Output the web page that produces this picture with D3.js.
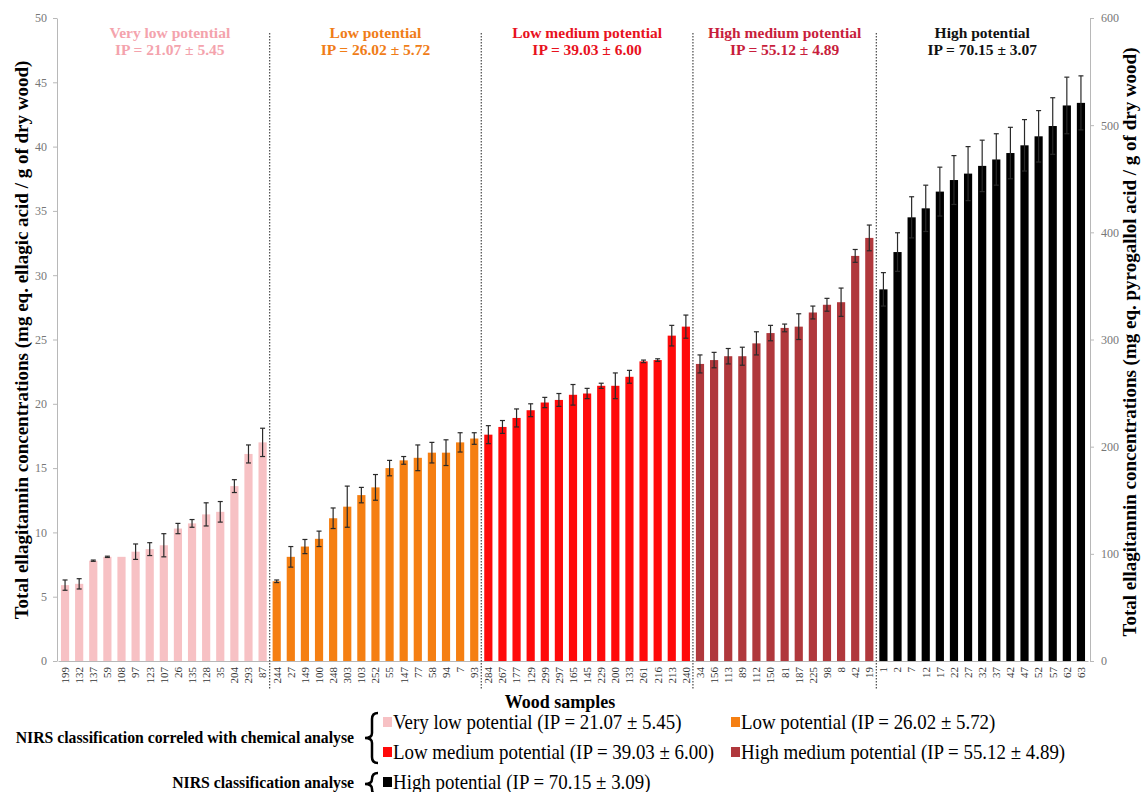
<!DOCTYPE html>
<html>
<head>
<meta charset="utf-8">
<script src="https://cdn.jsdelivr.net/npm/d3@7"></script>
<style>
  body { margin: 0; background: #fff; }
  svg text { font-family: "Liberation Serif", "Times New Roman", serif; }
</style>
</head>
<body>
<div id="chart"></div>
<script>
// groups (NIRS classes)
const groupNames = ['Very low potential', 'Low potential', 'Low medium potential', 'High medium potential', 'High potential'];
const groupIP = ['IP = 21.07 ± 5.45', 'IP = 26.02 ± 5.72', 'IP = 39.03 ± 6.00', 'IP = 55.12 ± 4.89', 'IP = 70.15 ± 3.07'];
const legendIP = ['(IP = 21.07 ± 5.45)', '(IP = 26.02 ± 5.72)', '(IP = 39.03 ± 6.00)', '(IP = 55.12 ± 4.89)', '(IP = 70.15 ± 3.09)'];

// wood samples, per group
const veryLowLabels = ['199', '132', '137', '59', '108', '97', '123', '107', '26', '135', '128', '35', '204', '293', '87'];
const veryLowValues = [5.9, 6.0, 7.8, 8.1, 8.1, 8.5, 8.7, 9.0, 10.3, 10.7, 11.4, 11.6, 13.6, 16.1, 17.0];
const veryLowErrors = [0.4, 0.4, 0.05, 0.05, 0, 0.6, 0.5, 0.9, 0.4, 0.3, 0.9, 0.8, 0.5, 0.7, 1.1];

const lowLabels = ['244', '27', '149', '100', '248', '303', '103', '252', '55', '147', '77', '58', '94', '7', '93'];
const lowValues = [6.2, 8.1, 8.9, 9.5, 11.1, 12.0, 12.9, 13.5, 15.0, 15.6, 15.8, 16.2, 16.2, 17.0, 17.3];
const lowErrors = [0.1, 0.8, 0.55, 0.6, 0.8, 1.6, 0.6, 1.0, 0.6, 0.3, 1.0, 0.8, 1.0, 0.75, 0.45];

const lowMediumLabels = ['284', '267', '177', '129', '299', '297', '165', '145', '229', '200', '133', '261', '216', '213', '240'];
const lowMediumValues = [17.6, 18.2, 18.9, 19.5, 20.1, 20.3, 20.7, 20.8, 21.4, 21.4, 22.1, 23.3, 23.4, 25.3, 26.0];
const lowMediumErrors = [0.7, 0.5, 0.7, 0.5, 0.4, 0.5, 0.8, 0.4, 0.2, 1.0, 0.5, 0.1, 0.1, 0.8, 0.9];

const highMediumLabels = ['34', '156', '113', '89', '112', '150', '81', '187', '225', '98', '8', '42', '19'];
const highMediumValues = [23.1, 23.4, 23.7, 23.7, 24.7, 25.5, 25.9, 26.0, 27.1, 27.7, 27.9, 31.5, 32.9];
const highMediumErrors = [0.7, 0.6, 0.6, 0.7, 0.9, 0.6, 0.3, 1.0, 0.5, 0.5, 1.1, 0.5, 1.0];

const highLabels = ['1', '2', '7', '12', '17', '22', '27', '32', '37', '42', '47', '52', '57', '62', '63'];
const highValues = [28.9, 31.8, 34.5, 35.2, 36.5, 37.4, 37.9, 38.5, 39.0, 39.5, 40.1, 40.8, 41.6, 43.2, 43.4];
const highErrors = [1.3, 1.5, 1.6, 1.8, 1.9, 1.9, 2.1, 2.0, 2.0, 2.0, 2.0, 2.0, 2.2, 2.2, 2.1];

const leftTicks = [0, 5, 10, 15, 20, 25, 30, 35, 40, 45, 50];
const rightTicks = [0, 100, 200, 300, 400, 500, 600];

const barColors = ['#f7c1c4', '#f57f12', '#ff0a0a', '#b0383c', '#000000'];
const headColors = ['#f4a3ad', '#f07d18', '#e8121e', '#c81e3c', '#111111'];

const groupLabels = [veryLowLabels, lowLabels, lowMediumLabels, highMediumLabels, highLabels];
const groupValues = [veryLowValues, lowValues, lowMediumValues, highMediumValues, highValues];
const groupErrors = [veryLowErrors, lowErrors, lowMediumErrors, highMediumErrors, highErrors];

const bars = [];
groupLabels.forEach((labels, g) => {
  labels.forEach((lab, i) => {
    bars.push({id: bars.length, label: lab, value: groupValues[g][i], err: groupErrors[g][i], group: g});
  });
});

const W = 1141, H = 792;
const svg = d3.select('#chart').append('svg').attr('width', W).attr('height', H);

const x = d3.scaleBand().domain(bars.map(d => d.id)).range([58, 1088]).paddingInner(0.42).paddingOuter(0.21);
const y = d3.scaleLinear().domain([0, 50]).range([661, 18]);
const yRight = d3.scaleLinear().domain([0, 600]).range([661, 18]);

// axes
const axisColor = '#b8b8b8';
const gl = svg.append('g').attr('transform', 'translate(57,0)')
  .call(d3.axisLeft(y).tickValues(leftTicks).tickSize(4).tickSizeOuter(0).tickPadding(6));
const gr = svg.append('g').attr('transform', 'translate(1090,0)')
  .call(d3.axisRight(yRight).tickValues(rightTicks).tickSize(4).tickSizeOuter(0).tickPadding(7));
[gl, gr].forEach(g => {
  g.select('.domain').attr('stroke', axisColor);
  g.selectAll('.tick line').attr('stroke', axisColor);
  g.selectAll('.tick text').attr('fill', '#777').style('font-size', '12px');
});

const gx = svg.append('g').attr('transform', 'translate(0,661)')
  .call(d3.axisBottom(x).tickSize(0).tickSizeOuter(0).tickFormat(i => bars[i].label));
gx.select('.domain').attr('stroke', axisColor);
gx.selectAll('.tick text')
  .attr('transform', 'rotate(-90)')
  .attr('x', -6).attr('y', 0).attr('dy', '0.35em')
  .attr('text-anchor', 'end')
  .attr('fill', '#333').style('font-size', '11px');

// bars
svg.append('g').selectAll('rect').data(bars).join('rect')
  .attr('x', d => x(d.id)).attr('width', x.bandwidth())
  .attr('y', d => y(d.value)).attr('height', d => y(0) - y(d.value))
  .attr('fill', d => barColors[d.group]);

// error bars
const eg = svg.append('g').attr('stroke', '#2a2a2a').attr('stroke-width', 1.2);
bars.filter(d => d.err > 0).forEach(d => {
  const cx = x(d.id) + x.bandwidth() / 2;
  eg.append('line').attr('x1', cx).attr('x2', cx).attr('y1', y(d.value - d.err)).attr('y2', y(d.value + d.err));
  [d.value - d.err, d.value + d.err].forEach(v => {
    eg.append('line').attr('x1', cx - 2.5).attr('x2', cx + 2.5).attr('y1', y(v)).attr('y2', y(v));
  });
});

// group separators and headers
const gap = (x.step() - x.bandwidth()) / 2;
let start = 0;
groupLabels.forEach((labels, g) => {
  const first = start, last = start + labels.length - 1;
  const left = x(first) - gap, right = x(last) + x.bandwidth() + gap;
  if (g > 0) {
    svg.append('line').attr('x1', left).attr('x2', left).attr('y1', 33).attr('y2', 690)
      .attr('stroke', '#555').attr('stroke-width', 1.3).attr('stroke-dasharray', '1.5,1.5');
  }
  const cx = (left + right) / 2 + (g === 0 ? 6 : 0);
  const t = svg.append('text').attr('text-anchor', 'middle').attr('fill', headColors[g])
    .style('font-weight', 'bold').style('font-size', '15.5px');
  t.append('tspan').attr('x', cx).attr('y', 38).text(groupNames[g]);
  t.append('tspan').attr('x', cx).attr('y', 55).text(groupIP[g]);
  start += labels.length;
});

// axis titles
svg.append('text').attr('transform', 'translate(28,340) rotate(-90)')
  .attr('text-anchor', 'middle').style('font-weight', 'bold').style('font-size', '19px')
  .text('Total ellagitannin concentrations (mg eq. ellagic acid / g of dry wood)');
svg.append('text').attr('transform', 'translate(1136,342) rotate(-90)')
  .attr('text-anchor', 'middle').style('font-weight', 'bold').style('font-size', '19px')
  .text('Total ellagitannin concentrations (mg eq. pyrogallol acid / g of dry wood)');
svg.append('text').attr('x', 560).attr('y', 708).attr('text-anchor', 'middle')
  .style('font-weight', 'bold').style('font-size', '18px').text('Wood samples');

// legend
const lg = svg.append('g');
const brace = (xx, y0, y1) => {
  const m = (y0 + y1) / 2;
  return `M${xx + 6},${y0} Q${xx},${y0} ${xx},${y0 + 6} L${xx},${m - 5} Q${xx},${m} ${xx - 7},${m} ` +
         `Q${xx},${m} ${xx},${m + 5} L${xx},${y1 - 6} Q${xx},${y1} ${xx + 6},${y1}`;
};
lg.append('path').attr('d', brace(372, 713, 763)).attr('fill', 'none').attr('stroke', '#000').attr('stroke-width', 2.5);
lg.append('path').attr('d', brace(372, 773, 795)).attr('fill', 'none').attr('stroke', '#000').attr('stroke-width', 2.5);

const sideLabel = (txt, yy) => lg.append('text')
  .attr('transform', `translate(354,${yy}) scale(0.9,1)`).attr('text-anchor', 'end')
  .style('font-weight', 'bold').style('font-size', '17.5px').text(txt);
sideLabel('NIRS classification correled with chemical analyse', 743);
sideLabel('NIRS classification analyse', 788);

const legendPos = [[383, 722], [731, 722], [383, 752], [731, 752], [383, 782]];
groupNames.forEach((name, g) => {
  const [lx, ly] = legendPos[g];
  lg.append('rect').attr('x', lx).attr('y', ly - 5).attr('width', 9).attr('height', 10).attr('fill', barColors[g]);
  lg.append('text').attr('transform', `translate(${lx + 10},${ly + 7}) scale(0.9,1)`)
    .style('font-size', '21px').text(`${name} ${legendIP[g]}`);
});
</script>
</body>
</html>
